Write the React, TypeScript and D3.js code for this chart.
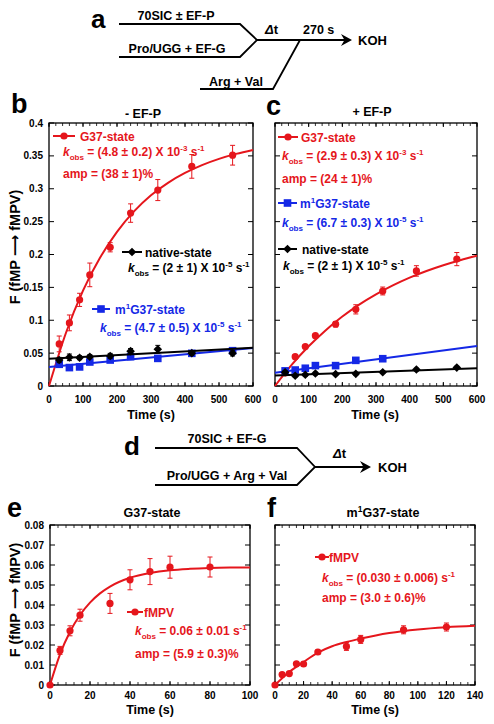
import React from "react";
import * as d3 from "d3";

// ---------- data ----------
const TIME_BC = [30, 60, 90, 120, 180, 240, 320, 420, 540];
const B_G37 = [0.064, 0.096, 0.131, 0.169, 0.211, 0.263, 0.298, 0.334, 0.351];
const B_G37_ERR = [0.012, 0.012, 0.01, 0.018, 0.007, 0.014, 0.016, 0.018, 0.015];
const B_NATIVE = [0.0395, 0.0436, 0.043, 0.0446, 0.0456, 0.053, 0.0558, 0.05, 0.0497];
const B_NATIVE_ERR = [0.004, 0.005, 0.003, 0.003, 0.004, 0.004, 0.006, 0.003, 0.004];
const B_M1G37 = [0.033, 0.028, 0.029, 0.0365, 0.0395, 0.0446, 0.042, 0.0497, 0.0537];
const B_M1G37_ERR = [0.002, 0.002, 0.002, 0.002, 0.002, 0.002, 0.002, 0.002, 0.002];

const C_G37 = [0.02, 0.0446, 0.06, 0.0766, 0.094, 0.1166, 0.1445, 0.175, 0.193];
const C_G37_ERR = [0.003, 0.003, 0.003, 0.003, 0.004, 0.007, 0.006, 0.008, 0.01];
const TIME_C_M1 = [30, 60, 90, 120, 180, 240, 320];
const C_M1G37 = [0.023, 0.0243, 0.027, 0.031, 0.031, 0.039, 0.0415];
const C_M1G37_ERR = [0.002, 0.002, 0.002, 0.002, 0.002, 0.002, 0.002];
const C_NATIVE = [0.021, 0.0157, 0.017, 0.019, 0.018, 0.0185, 0.021, 0.025, 0.028];
const C_NATIVE_ERR = [0.002, 0.002, 0.002, 0.002, 0.002, 0.002, 0.002, 0.002, 0.002];

// fitted curves
const FIT_T_BC = [0, 50, 100, 150, 200, 250, 300, 350, 400, 450, 500, 550, 600];
const B_G37_FIT = [0, 0.081, 0.145, 0.195, 0.2345, 0.2655, 0.29, 0.309, 0.324, 0.336, 0.3455, 0.353, 0.359];
const C_G37_FIT = [0, 0.0324, 0.0604, 0.0846, 0.1056, 0.1238, 0.1394, 0.153, 0.1648, 0.1749, 0.1837, 0.1913, 0.198];
const LIN_T = [0, 600];
const B_NATIVE_FIT = [0.0416, 0.058];
const B_M1G37_FIT = [0.029, 0.0578];
const C_NATIVE_FIT = [0.016, 0.027];
const C_M1G37_FIT = [0.0203, 0.061];

const TIME_E = [0, 5, 10, 15, 30, 40, 50, 60, 80];
const E_FMPV = [0, 0.0173, 0.0271, 0.0349, 0.0408, 0.0526, 0.0567, 0.0589, 0.059];
const E_ERR = [0, 0.002, 0.0025, 0.003, 0.005, 0.005, 0.0065, 0.0055, 0.005];
const FIT_T_E = [0, 5, 10, 15, 20, 25, 30, 40, 50, 60, 70, 80, 90, 100];
const E_FIT = [0, 0.0153, 0.0266, 0.035, 0.0412, 0.0458, 0.0492, 0.0536, 0.056, 0.0574, 0.0581, 0.0585, 0.0587, 0.0588];

const TIME_F = [0, 5, 10, 15, 20, 30, 50, 60, 90, 120];
const F_FMPV = [0, 0.0052, 0.0057, 0.0106, 0.0105, 0.0165, 0.0193, 0.0228, 0.0276, 0.029];
const F_ERR = [0, 0.001, 0.001, 0.001, 0.001, 0.001, 0.002, 0.002, 0.002, 0.002];
const FIT_T_F = [0, 10, 20, 30, 40, 50, 60, 80, 100, 120, 140];
const F_FIT = [0, 0.0065, 0.0115, 0.0162, 0.0194, 0.0215, 0.0232, 0.026, 0.0278, 0.0289, 0.0296];

const RED = "#e5161c";
const BLUE = "#1428e6";
const BLACK = "#000";
const FONT = "'Liberation Sans', Arial, Helvetica, sans-serif";

type Box = { l: number; r: number; t: number; b: number };

function fmtNum(v: number) {
  return String(+v.toFixed(3));
}

function Frame({ box, x, y, xMajor, xMinor, yMajor, showY, labelOff = 17 }: any) {
  const xs = d3.scaleLinear().domain(x).range([box.l, box.r]);
  const ys = d3.scaleLinear().domain(y).range([box.b, box.t]);
  const nMin = Math.round((x[1] - x[0]) / xMinor);
  const minors = d3.range(0, nMin + 1).map((i) => x[0] + i * xMinor);
  const nMaj = Math.round((x[1] - x[0]) / xMajor);
  const majors = d3.range(0, nMaj + 1).map((i) => x[0] + i * xMajor);
  const nY = Math.round((y[1] - y[0]) / yMajor);
  const yt = d3.range(0, nY + 1).map((i) => y[0] + i * yMajor);
  return (
    <g>
      <rect x={box.l} y={box.t} width={box.r - box.l} height={box.b - box.t} fill="none" stroke="#000" strokeWidth={1.3} />
      {minors.map((v, i) => (
        <g key={"mi" + i}>
          <line x1={xs(v)} x2={xs(v)} y1={box.b} y2={box.b - 3} stroke="#000" strokeWidth={0.8} />
          <line x1={xs(v)} x2={xs(v)} y1={box.t} y2={box.t + 3} stroke="#000" strokeWidth={0.8} />
        </g>
      ))}
      {majors.map((v, i) => (
        <g key={"ma" + i}>
          <line x1={xs(v)} x2={xs(v)} y1={box.b} y2={box.b - 4} stroke="#000" strokeWidth={1} />
          <line x1={xs(v)} x2={xs(v)} y1={box.t} y2={box.t + 4} stroke="#000" strokeWidth={1} />
          <text x={xs(v)} y={box.b + labelOff} textAnchor="middle" fontSize={10} fontWeight="bold" fontFamily={FONT}>
            {fmtNum(v)}
          </text>
        </g>
      ))}
      {yt.map((v, i) => (
        <g key={"y" + i}>
          <line x1={box.l} x2={box.l + 5} y1={ys(v)} y2={ys(v)} stroke="#000" strokeWidth={1} />
          <line x1={box.r} x2={box.r - 5} y1={ys(v)} y2={ys(v)} stroke="#000" strokeWidth={1} />
          {showY && (
            <text x={box.l - 6} y={ys(v) + 3.5} textAnchor="end" fontSize={10} fontWeight="bold" fontFamily={FONT}>
              {fmtNum(v)}
            </text>
          )}
        </g>
      ))}
    </g>
  );
}

function Marker({ shape, cx, cy, color }: any) {
  if (shape === "circle") return <circle cx={cx} cy={cy} r={3.6} fill={color} />;
  if (shape === "square") return <rect x={cx - 3.8} y={cy - 3.8} width={7.6} height={7.6} fill={color} />;
  const s = 4.3;
  return <path d={`M${cx},${cy - s}L${cx + s},${cy}L${cx},${cy + s}L${cx - s},${cy}Z`} fill={color} />;
}

function Series({ box, x, y, t, v, err, color, shape, fitT, fitV, curved }: any) {
  const xs = d3.scaleLinear().domain(x).range([box.l, box.r]);
  const ys = d3.scaleLinear().domain(y).range([box.b, box.t]);
  const line = d3
    .line<number>()
    .x((_, i) => xs(fitT[i]))
    .y((d) => ys(d))
    .curve(curved ? d3.curveMonotoneX : d3.curveLinear);
  return (
    <g>
      <path d={line(fitV) || ""} fill="none" stroke={color} strokeWidth={2} />
      {t.map((tt: number, i: number) => {
        const e = err[i];
        const cx = xs(tt);
        return (
          <g key={i}>
            {e > 0 && (
              <g stroke={color} strokeWidth={1}>
                <line x1={cx} x2={cx} y1={ys(v[i] - e)} y2={ys(v[i] + e)} />
                <line x1={cx - 2.5} x2={cx + 2.5} y1={ys(v[i] - e)} y2={ys(v[i] - e)} />
                <line x1={cx - 2.5} x2={cx + 2.5} y1={ys(v[i] + e)} y2={ys(v[i] + e)} />
              </g>
            )}
            <Marker shape={shape} cx={cx} cy={ys(v[i])} color={color} />
          </g>
        );
      })}
    </g>
  );
}

function LegendItem({ x1, x2, y, color, shape, label, tx, sup }: any) {
  return (
    <g>
      <line x1={x1} x2={x2} y1={y} y2={y} stroke={color} strokeWidth={2} />
      <Marker shape={shape} cx={(x1 + x2) / 2} cy={y} color={color} />
      <text x={tx} y={y + 4.5} fill={color} fontSize={12} fontWeight="bold" fontFamily={FONT}>
        {sup ? (
          <>
            m<tspan dy={-5} fontSize={8}>1</tspan>
            <tspan dy={5}>{label}</tspan>
          </>
        ) : (
          label
        )}
      </text>
    </g>
  );
}

function Kobs({ x, y, color, body, exp }: any) {
  return (
    <text x={x} y={y} fill={color} fontSize={12} fontWeight="bold" fontFamily={FONT}>
      <tspan fontStyle="italic">k</tspan>
      <tspan dy={4} fontSize={8}>obs</tspan>
      <tspan dy={-4}>{" = " + body}</tspan>
      {exp !== undefined && (
        <>
          <tspan>{" X 10"}</tspan>
          <tspan dy={-5} fontSize={8}>{exp}</tspan>
          <tspan dy={5}>{" s"}</tspan>
        </>
      )}
      {exp === undefined && <tspan>{" s"}</tspan>}
      <tspan dy={-5} fontSize={8}>-1</tspan>
    </text>
  );
}

function T({ x, y, size = 12, anchor = "start", children, color = "#000", rotate }: any) {
  return (
    <text
      x={x}
      y={y}
      fontSize={size}
      fontWeight="bold"
      fontFamily={FONT}
      fill={color}
      textAnchor={anchor}
      transform={rotate ? `rotate(-90 ${x} ${y})` : undefined}
    >
      {children}
    </text>
  );
}

function YLabel({ x, y }: any) {
  return (
    <text
      x={x}
      y={y}
      fontSize={14.5}
      fontWeight="bold"
      fontFamily={FONT}
      textAnchor="middle"
      transform={`rotate(-90 ${x} ${y})`}
    >
      F (fMP <tspan fontFamily="'DejaVu Sans', sans-serif" fontSize={15}>⟶</tspan> fMPV)
    </text>
  );
}

function Arrowhead({ x, y }: any) {
  return <path d={`M${x},${y}L${x - 11},${y - 6}L${x - 7.5},${y}L${x - 11},${y + 6}Z`} fill="#000" />;
}

export default function App() {
  const boxB: Box = { l: 49, r: 253, t: 123, b: 386 };
  const boxC: Box = { l: 275, r: 477, t: 123, b: 386 };
  const boxE: Box = { l: 50, r: 250, t: 525, b: 685 };
  const boxF: Box = { l: 275, r: 475, t: 525, b: 685 };
  const xBC = [0, 600];
  const yBC = [0, 0.4];
  const xE = [0, 100];
  const xF = [0, 140];
  const yEF = [0, 0.08];

  return (
    <svg width={494} height={724} style={{ position: "absolute", left: 0, top: 0, background: "#fff" }}>
      <rect width={494} height={724} fill="#fff" />
      {/* panel a diagram */}
      <T x={91} y={28} size={26}>a</T>
      <g stroke="#000" strokeWidth={1.8} fill="none">
        <path d="M119,24 L240,24 L257,40 L240,57 L119,57" />
        <path d="M257,40 L345,40" />
        <path d="M200,89 L273,89 L300,40" />
      </g>
      <Arrowhead x={352} y={40} />
      <T x={176} y={20} anchor="middle" size={12.5}>70SIC ± EF-P</T>
      <T x={177} y={53} anchor="middle" size={12.5}>Pro/UGG + EF-G</T>
      <T x={236} y={86} anchor="middle" size={12.5}>Arg + Val</T>
      <text x={265} y={34} fontSize={13} fontWeight="bold" fontFamily={FONT}>
        <tspan fontStyle="italic">Δ</tspan>t
      </text>
      <T x={303} y={34} size={12.5}>270 s</T>
      <T x={358} y={45} size={13}>KOH</T>

      {/* panel b */}
      <T x={11} y={113} size={27}>b</T>
      <T x={143} y={118} anchor="middle" size={12.5}>- EF-P</T>
      <YLabel x={20} y={247} />
      <Frame box={boxB} x={xBC} y={yBC} xMajor={100} xMinor={20} yMajor={0.05} showY={true} />
      <Series box={boxB} x={xBC} y={yBC} t={TIME_BC} v={B_G37} err={B_G37_ERR} color={RED} shape="circle" fitT={FIT_T_BC} fitV={B_G37_FIT} curved />
      <Series box={boxB} x={xBC} y={yBC} t={TIME_BC} v={B_M1G37} err={B_M1G37_ERR} color={BLUE} shape="square" fitT={LIN_T} fitV={B_M1G37_FIT} />
      <Series box={boxB} x={xBC} y={yBC} t={TIME_BC} v={B_NATIVE} err={B_NATIVE_ERR} color={BLACK} shape="diamond" fitT={LIN_T} fitV={B_NATIVE_FIT} />
      <LegendItem x1={53} x2={75} y={136} color={RED} shape="circle" label="G37-state" tx={80} />
      <Kobs x={63} y={156} color={RED} body="(4.8 ± 0.2)" exp="-3" />
      <T x={63} y={178} color={RED}>amp = (38 ± 1)%</T>
      <LegendItem x1={122} x2={142} y={252} color={BLACK} shape="diamond" label="native-state" tx={145} />
      <Kobs x={128} y={272} color={BLACK} body="(2 ± 1)" exp="-5" />
      <LegendItem x1={92} x2={110} y={309} color={BLUE} shape="square" label="G37-state" tx={115} sup />
      <Kobs x={100} y={332} color={BLUE} body="(4.7 ± 0.5)" exp="-5" />
      <T x={151} y={419} anchor="middle" size={12.5}>Time (s)</T>

      {/* panel c */}
      <T x={266} y={115} size={27}>c</T>
      <T x={372} y={116} anchor="middle" size={12.5}>+ EF-P</T>
      <Frame box={boxC} x={xBC} y={yBC} xMajor={100} xMinor={20} yMajor={0.05} showY={false} />
      <Series box={boxC} x={xBC} y={yBC} t={TIME_BC} v={C_G37} err={C_G37_ERR} color={RED} shape="circle" fitT={FIT_T_BC} fitV={C_G37_FIT} curved />
      <Series box={boxC} x={xBC} y={yBC} t={TIME_C_M1} v={C_M1G37} err={C_M1G37_ERR} color={BLUE} shape="square" fitT={LIN_T} fitV={C_M1G37_FIT} />
      <Series box={boxC} x={xBC} y={yBC} t={TIME_BC} v={C_NATIVE} err={C_NATIVE_ERR} color={BLACK} shape="diamond" fitT={LIN_T} fitV={C_NATIVE_FIT} />
      <LegendItem x1={278} x2={298} y={137} color={RED} shape="circle" label="G37-state" tx={301} />
      <Kobs x={282} y={160} color={RED} body="(2.9 ± 0.3)" exp="-3" />
      <T x={282} y={183} color={RED}>amp = (24 ± 1)%</T>
      <LegendItem x1={278} x2={297} y={203} color={BLUE} shape="square" label="G37-state" tx={300} sup />
      <Kobs x={282} y={227} color={BLUE} body="(6.7 ± 0.3)" exp="-5" />
      <LegendItem x1={278} x2={297} y={249} color={BLACK} shape="diamond" label="native-state" tx={302} />
      <Kobs x={283} y={270} color={BLACK} body="(2 ± 1)" exp="-5" />
      <T x={375} y={419} anchor="middle" size={12.5}>Time (s)</T>

      {/* panel d diagram */}
      <T x={124} y={455} size={26}>d</T>
      <g stroke="#000" strokeWidth={1.8} fill="none">
        <path d="M155,448 L297,448 L315,467 L297,485 L155,485" />
        <path d="M315,467 L364,467" />
      </g>
      <Arrowhead x={371} y={467} />
      <T x={227} y={443} anchor="middle" size={12.5}>70SIC + EF-G</T>
      <T x={227} y={480} anchor="middle" size={12.5}>Pro/UGG + Arg + Val</T>
      <text x={333} y={458} fontSize={13} fontWeight="bold" fontFamily={FONT}>
        <tspan fontStyle="italic">Δ</tspan>t
      </text>
      <T x={378} y={472} size={13}>KOH</T>

      {/* panel e */}
      <T x={7} y={517} size={27}>e</T>
      <T x={152} y={517} anchor="middle" size={12.5}>G37-state</T>
      <YLabel x={20} y={600} />
      <Frame box={boxE} x={xE} y={yEF} xMajor={20} xMinor={4} yMajor={0.01} showY={true} labelOff={14} />
      <Series box={boxE} x={xE} y={yEF} t={TIME_E} v={E_FMPV} err={E_ERR} color={RED} shape="circle" fitT={FIT_T_E} fitV={E_FIT} curved />
      <LegendItem x1={127} x2={143} y={612} color={RED} shape="circle" label="fMPV" tx={144} />
      <Kobs x={135} y={635} color={RED} body="0.06 ± 0.01" />
      <T x={135} y={658} color={RED}>amp = (5.9 ± 0.3)%</T>
      <T x={150} y={714} anchor="middle" size={12.5}>Time (s)</T>

      {/* panel f */}
      <T x={267} y={517} size={27}>f</T>
      <text x={383} y={517} textAnchor="middle" fontSize={12.5} fontWeight="bold" fontFamily={FONT}>
        m<tspan dy={-5} fontSize={8.5}>1</tspan>
        <tspan dy={5}>G37-state</tspan>
      </text>
      <Frame box={boxF} x={xF} y={yEF} xMajor={20} xMinor={5} yMajor={0.01} showY={false} labelOff={14} />
      <Series box={boxF} x={xF} y={yEF} t={TIME_F} v={F_FMPV} err={F_ERR} color={RED} shape="circle" fitT={FIT_T_F} fitV={F_FIT} curved />
      <LegendItem x1={315} x2={329} y={557} color={RED} shape="circle" label="fMPV" tx={329} />
      <Kobs x={322} y={582} color={RED} body="(0.030 ± 0.006)" />
      <T x={322} y={602} color={RED}>amp = (3.0 ± 0.6)%</T>
      <T x={375} y={714} anchor="middle" size={12.5}>Time (s)</T>
    </svg>
  );
}
